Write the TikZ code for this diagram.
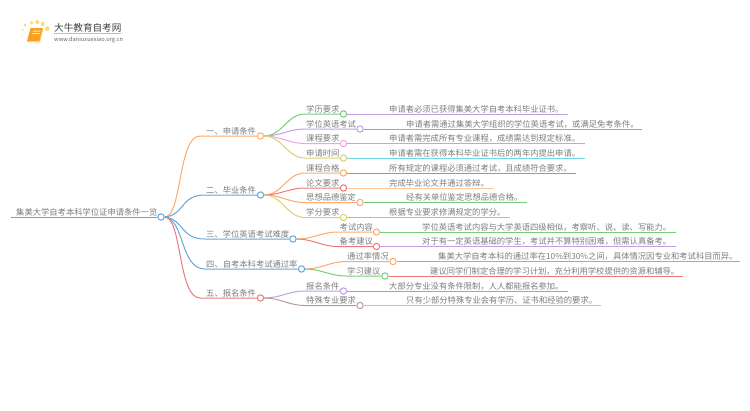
\documentclass[tikz,border=0pt]{standalone}
\usepackage{fontspec}
\setmainfont{Noto Sans CJK SC}
\definecolor{cOrange}{HTML}{FFAA68}
\definecolor{cBlue}{HTML}{66A6DA}
\definecolor{cGreen}{HTML}{78CC78}
\definecolor{cPurple}{HTML}{C0A0E2}
\definecolor{cPink}{HTML}{F0A4E2}
\definecolor{cOlive}{HTML}{DAD270}
\definecolor{cRed}{HTML}{EE7878}
\definecolor{cBrown}{HTML}{BA9C96}
\definecolor{cCyan}{HTML}{70D6E2}
\definecolor{cGray}{HTML}{B4B4B4}
\definecolor{cPeach}{HTML}{FFC597}
\definecolor{cText}{HTML}{7C7C7C}
\definecolor{cSun}{HTML}{FFD873}
\definecolor{cBook}{HTML}{F7A11E}
\tikzset{
	lbl/.style = {anchor=base west, inner sep=0pt, text=cText, font=\fontsize{8.3}{10}\selectfont},
	dot/.style = {circle, draw=#1, fill=white, line width=1pt, inner sep=0pt, minimum size=6.4pt},
	link/.style = {draw=#1, line width=1pt},
}
\begin{document}
\begin{tikzpicture}[x=1pt, y=-1pt]
	\useasboundingbox (0,0) rectangle (750,410);
	% logo
	\fill[cSun] (25,25) circle (1.5);
	\fill[cSun] (31.7,22.7) circle (1.8);
	\fill[cSun] (37.3,22) circle (2);
	\fill[cSun] (42.7,24) circle (2);
	\fill[cSun] (47.3,28.7) circle (2.3);
	\fill[cSun!70!white] (22.7,30) circle (1.3);
	\fill[cSun!50!white] (21.7,36) circle (1.1);
	\fill[cSun!35!white] (23.3,42) circle (.9);
	\fill[cBook] (30.5,28) -- (43,28) -- (40,41) -- (27,41) -- cycle;
	\draw[cBook!60!white, line width=.9pt] (27,41.5) -- (39.5,42) -- (42.8,29);
	\fill[cBook!30!white] (33,30.5) -- (40.5,30.5) -- (40.2,31.6) -- (32.7,31.6) -- cycle;
	\fill[cBook!30!white] (32.4,33) -- (39.9,33) -- (39.6,34) -- (32.1,34) -- cycle;
	\node[inner sep=0pt, anchor=base west, text=black!75, font=\fontsize{9.6}{10}\selectfont] (logoname) at (54,31) {大牛教育自考网};
	\node[inner sep=0pt, anchor=base west, text=black!60, font=\fontsize{5.7}{7}\selectfont] (logourl) at (54,41) {www.daniuxuexiao.org.cn};
	\coordinate (logoa) at (54,33.5);
	\coordinate (logob) at (121,33.5);
	\draw[black!25, line width=.5pt] (logoa) -- (logob);
	% main nodes
	\node[dot=cBlue] (root) at (161,217) {};
	\node[dot=cOrange] (apply) at (260.5,136) {};
	\node[dot=cBlue] (grad) at (260.5,195) {};
	\node[dot=cBlue] (english) at (293,239) {};
	\node[dot=cBlue] (rate) at (301.5,269) {};
	\node[dot=cRed] (signup) at (260.5,298) {};
	\coordinate (rootstart) at (11,217);
	\coordinate (applyk) at (200,136);
	\coordinate (gradk) at (205,195);
	\coordinate (englishk) at (205,239);
	\coordinate (ratek) at (205,269);
	\coordinate (signupk) at (200,298);
	\node[lbl] at (16,215) (roott) {集美大学自考本科学位证申请条件一览};
	\node[lbl] at (206,134) (applyt) {一、申请条件};
	\node[lbl] at (206,193) (gradt) {二、毕业条件};
	\node[lbl] at (206,237) (englisht) {三、学位英语考试难度};
	\node[lbl] at (206,267) (ratet) {四、自考本科考试通过率};
	\node[lbl] at (206,296) (signupt) {五、报名条件};
	\draw[link=cBlue] (rootstart) -- (root.west);
	\draw[link=cOrange] (root.east) .. controls (182,217) and (178,136) .. (applyk) -- (apply.west);
	\draw[link=cBlue] (root.east) .. controls (185,215) and (180,195) .. (gradk) -- (grad.west);
	\draw[link=cBlue] (root.east) .. controls (185,220) and (180,239) .. (englishk) -- (english.west);
	\draw[link=cBlue] (root.east) .. controls (185,220) and (180,269) .. (ratek) -- (rate.west);
	\draw[link=cRed] (root.east) .. controls (182,217) and (178,298) .. (signupk) -- (signup.west);
	% second level
	\node[dot=cGreen] (n1) at (343.5,114) {};
	\node[dot=cPurple] (n2) at (360,129) {};
	\node[dot=cPink] (n3) at (343.5,143.5) {};
	\node[dot=cOlive] (n4) at (343.5,158) {};
	\node[dot=cOrange] (n5) at (343.5,173) {};
	\node[dot=cRed] (n6) at (343.5,188) {};
	\node[dot=cOrange] (n7) at (360,202.5) {};
	\node[dot=cOlive] (n8) at (343.5,217.5) {};
	\node[dot=cOrange] (n9) at (376.5,232) {};
	\node[dot=cRed] (n10) at (376.5,246.5) {};
	\node[dot=cOrange] (n11) at (393,261.5) {};
	\node[dot=cGreen] (n12) at (385,276) {};
	\node[dot=cPurple] (n13) at (343.5,291) {};
	\node[dot=cBrown] (n14) at (360,305.5) {};
	\coordinate (k1) at (305,114);
	\coordinate (k2) at (305,129);
	\coordinate (k3) at (305,143.5);
	\coordinate (k4) at (305,158);
	\coordinate (k5) at (305,173);
	\coordinate (k6) at (305,188);
	\coordinate (k7) at (305,202.5);
	\coordinate (k8) at (305,217.5);
	\coordinate (k9) at (338,232);
	\coordinate (k10) at (338,246.5);
	\coordinate (k11) at (346,261.5);
	\coordinate (k12) at (346,276);
	\coordinate (k13) at (305,291);
	\coordinate (k14) at (305,305.5);
	\draw[link=cGreen] (apply.east) to[out=0,in=180] (k1) -- (n1.west);
	\draw[link=cPurple] (apply.east) to[out=0,in=180] (k2) -- (n2.west);
	\draw[link=cPink] (apply.east) to[out=0,in=180] (k3) -- (n3.west);
	\draw[link=cOlive] (apply.east) to[out=0,in=180] (k4) -- (n4.west);
	\draw[link=cOrange] (grad.east) to[out=0,in=180] (k5) -- (n5.west);
	\draw[link=cRed] (grad.east) to[out=0,in=180] (k6) -- (n6.west);
	\draw[link=cOrange] (grad.east) to[out=0,in=180] (k7) -- (n7.west);
	\draw[link=cOlive] (grad.east) to[out=0,in=180] (k8) -- (n8.west);
	\draw[link=cOrange] (english.east) to[out=0,in=180] (k9) -- (n9.west);
	\draw[link=cRed] (english.east) to[out=0,in=180] (k10) -- (n10.west);
	\draw[link=cOrange] (rate.east) to[out=0,in=180] (k11) -- (n11.west);
	\draw[link=cGreen] (rate.east) to[out=0,in=180] (k12) -- (n12.west);
	\draw[link=cPurple] (signup.east) to[out=0,in=180] (k13) -- (n13.west);
	\draw[link=cBrown] (signup.east) to[out=0,in=180] (k14) -- (n14.west);
	\node[lbl] at (306,112) (s1) {学历要求};
	\node[lbl] at (306,127) (s2) {学位英语考试};
	\node[lbl] at (306,141.5) (s3) {课程要求};
	\node[lbl] at (306,156) (s4) {申请时间};
	\node[lbl] at (306,171) (s5) {课程合格};
	\node[lbl] at (306,186) (s6) {论文要求};
	\node[lbl] at (306,200.5) (s7) {思想品德鉴定};
	\node[lbl] at (306,215.5) (s8) {学分要求};
	\node[lbl] at (339.5,230) (s9) {考试内容};
	\node[lbl] at (339.5,244.5) (s10) {备考建议};
	\node[lbl] at (347,259.5) (s11) {通过率情况};
	\node[lbl] at (347,274) (s12) {学习建议};
	\node[lbl] at (306,289) (s13) {报名条件};
	\node[lbl] at (306,303.5) (s14) {特殊专业要求};
	% leaves
	\coordinate (e1) at (568,114);
	\coordinate (e2) at (642,129);
	\coordinate (e3) at (585,143.5);
	\coordinate (e4) at (585,158);
	\coordinate (e5) at (576,173);
	\coordinate (e6) at (494,188);
	\coordinate (e7) at (527,202.5);
	\coordinate (e8) at (510,217.5);
	\coordinate (e9) at (676,232);
	\coordinate (e10) at (676,246.5);
	\coordinate (e11) at (740,261.5);
	\coordinate (e12) at (683,276);
	\coordinate (e13) at (568,291);
	\coordinate (e14) at (601,305.5);
	\draw[link=cPurple] (n1.east) -- (e1);
	\draw[link=cBrown] (n2.east) -- (e2);
	\draw[link=cGray] (n3.east) -- (e3);
	\draw[link=cCyan] (n4.east) -- (e4);
	\draw[link=cBlue] (n5.east) -- (e5);
	\draw[link=cPeach] (n6.east) -- (e6);
	\draw[link=cGreen] (n7.east) -- (e7);
	\draw[link=cCyan] (n8.east) -- (e8);
	\draw[link=cGreen] (n9.east) -- (e9);
	\draw[link=cPurple] (n10.east) -- (e10);
	\draw[link=cGreen] (n11.east) -- (e11);
	\draw[link=cRed] (n12.east) -- (e12);
	\draw[link=cBrown] (n13.east) -- (e13);
	\draw[link=cPink] (n14.east) -- (e14);
	\node[lbl] at (389,112) (t1) {申请者必须已获得集美大学自考本科毕业证书。};
	\node[lbl] at (406,127) (t2) {申请者需通过集美大学组织的学位英语考试，或满足免考条件。};
	\node[lbl] at (389,141.5) (t3) {申请者需完成所有专业课程，成绩需达到规定标准。};
	\node[lbl] at (389,156) (t4) {申请者需在获得本科毕业证书后的两年内提出申请。};
	\node[lbl] at (389,171) (t5) {所有规定的课程必须通过考试，且成绩符合要求。};
	\node[lbl] at (389,186) (t6) {完成毕业论文并通过答辩。};
	\node[lbl] at (406,200.5) (t7) {经有关单位鉴定思想品德合格。};
	\node[lbl] at (389,215.5) (t8) {根据专业要求修满规定的学分。};
	\node[lbl] at (422,230) (t9) {学位英语考试内容与大学英语四级相似，考察听、说、读、写能力。};
	\node[lbl] at (422,244.5) (t10) {对于有一定英语基础的学生，考试并不算特别困难，但需认真备考。};
	\node[lbl] at (438,259.5) (t11) {集美大学自考本科的通过率在10\%到30\%之间，具体情况因专业和考试科目而异。};
	\node[lbl] at (430,274) (t12) {建议同学们制定合理的学习计划，充分利用学校提供的资源和辅导。};
	\node[lbl] at (389,289) (t13) {大部分专业没有条件限制，人人都能报名参加。};
	\node[lbl] at (406,303.5) (t14) {只有少部分特殊专业会有学历、证书和经验的要求。};
\end{tikzpicture}
\end{document}
